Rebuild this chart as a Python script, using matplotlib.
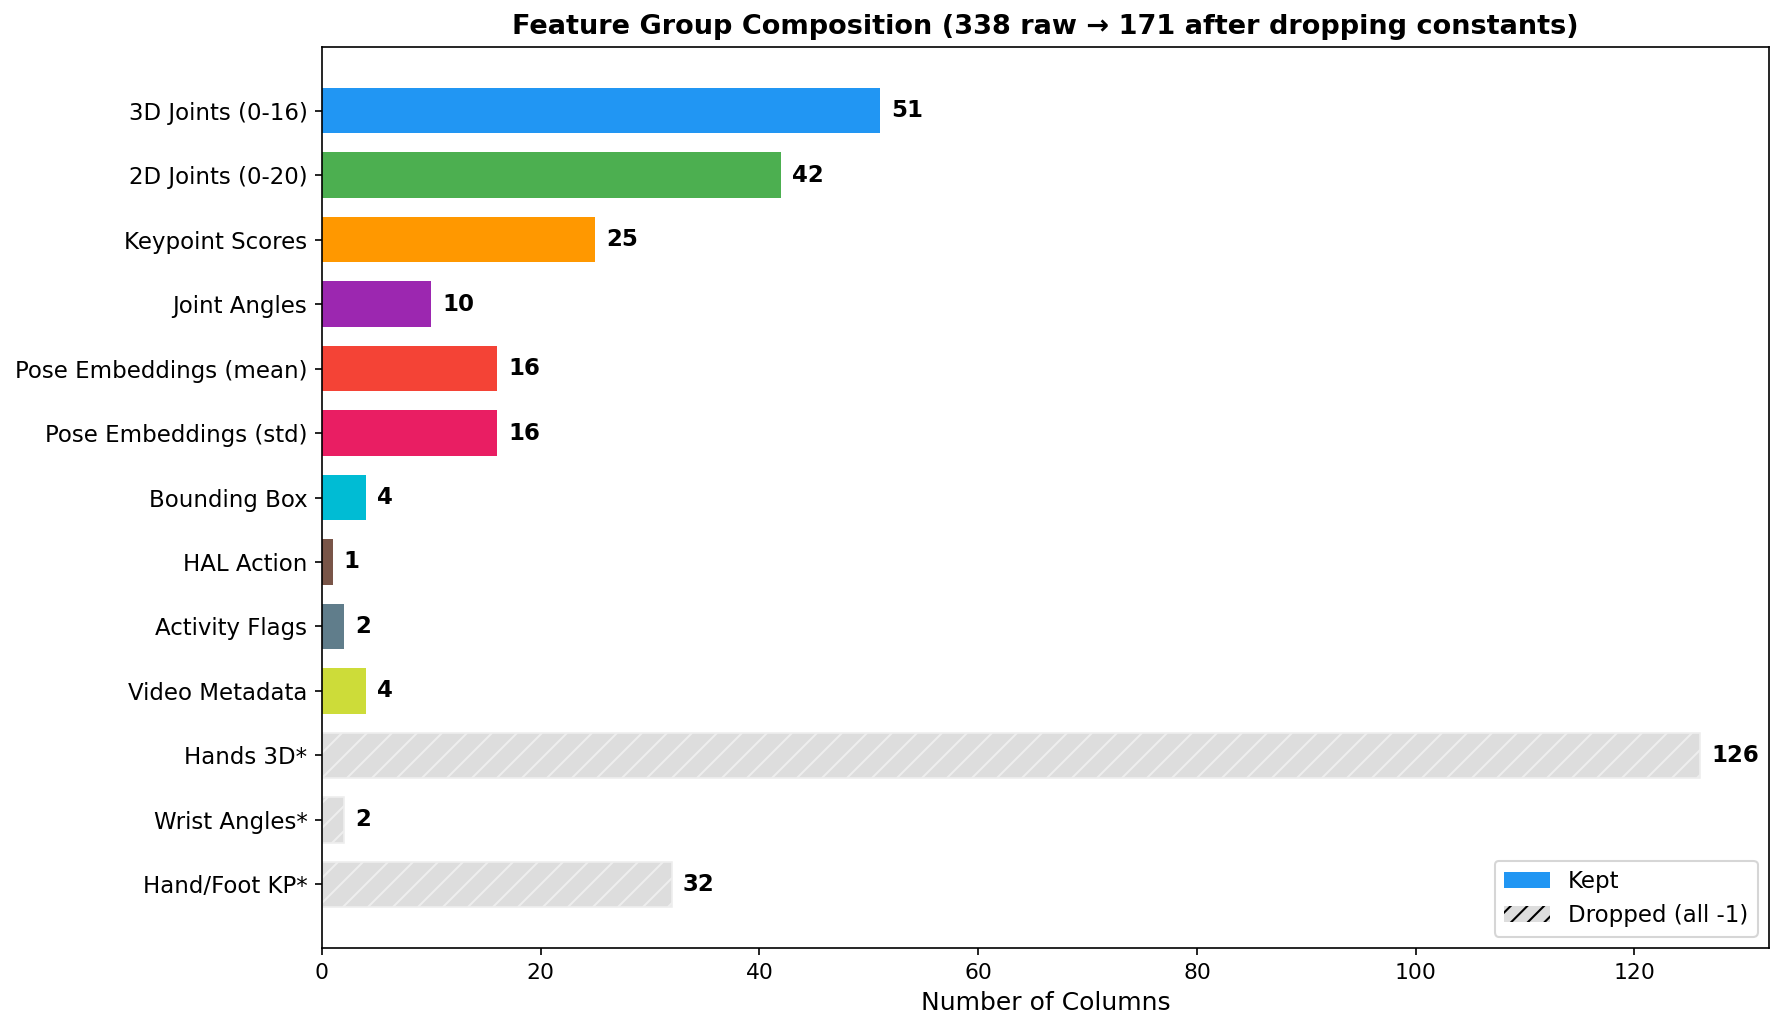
import matplotlib
matplotlib.use("Agg")
import matplotlib.pyplot as plt
from matplotlib.patches import Patch

groups = ["3D Joints (0-16)", "2D Joints (0-20)", "Keypoint Scores", "Joint Angles",
          "Pose Embeddings (mean)", "Pose Embeddings (std)", "Bounding Box", "HAL Action",
          "Activity Flags", "Video Metadata", "Hands 3D*", "Wrist Angles*", "Hand/Foot KP*"]
counts = [51, 42, 25, 10, 16, 16, 4, 1, 2, 4, 126, 2, 32]
dropped = [False] * 10 + [True] * 3
colors = ["#2196F3", "#4CAF50", "#FF9800", "#9C27B0", "#F44336", "#E91E63",
          "#00BCD4", "#795548", "#607D8B", "#CDDC39", "#DDDDDD", "#DDDDDD", "#DDDDDD"]

dpi = 150
fig = plt.figure(figsize=(1784 / dpi, 1030 / dpi), dpi=dpi)
ax = fig.add_axes([322 / 1784, 1 - 948 / 1030, (1769 - 322) / 1784, (948 - 47) / 1030])

ypos = list(range(len(groups)))
for y, c, col, d in zip(ypos, counts, colors, dropped):
    if d:
        ax.barh(y, c, height=0.7, color=col, edgecolor="#EEEEEE", hatch="//", linewidth=0.8)
    else:
        ax.barh(y, c, height=0.7, color=col)
    ax.text(c + 1, y, str(c), va="center", ha="left", fontsize=11, fontweight="bold")

ax.set_yticks(ypos)
ax.set_yticklabels(groups, fontsize=11)
ax.invert_yaxis()
ax.set_xlim(0, max(counts) * 1.05)
ax.tick_params(axis="x", labelsize=10.5)
ax.set_xlabel("Number of Columns", fontsize=12)
ax.set_title("Feature Group Composition (338 raw \u2192 171 after dropping constants)",
             fontsize=13, fontweight="bold")

handles = [Patch(facecolor="#2196F3", label="Kept"),
           Patch(facecolor="#DDDDDD", hatch="///", edgecolor="black", linewidth=0,
                 label="Dropped (all -1)")]
ax.legend(handles=handles, loc="lower right", fontsize=11)

fig.savefig("out.png", dpi=dpi)
